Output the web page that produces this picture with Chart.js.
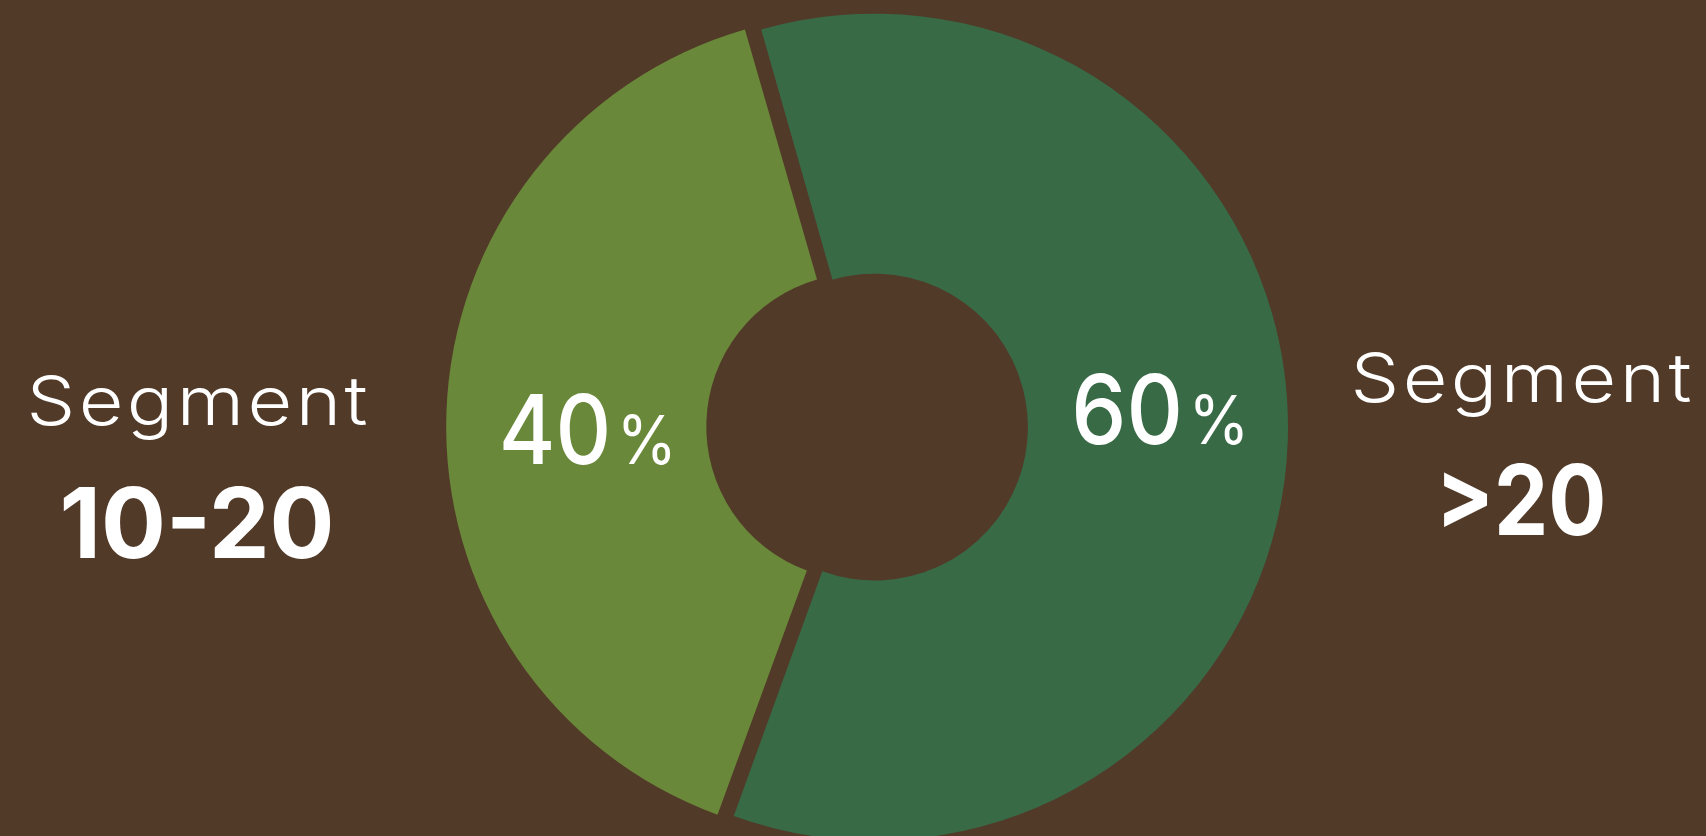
<!DOCTYPE html>
<html>
<head>
<meta charset="utf-8">
<title>Segments</title>
<script src="https://cdn.jsdelivr.net/npm/chart.js@4.4.1/dist/chart.umd.min.js"></script>
<style>
  html, body { margin: 0; padding: 0; background: #523a29; overflow: hidden; }
  #wrap { position: relative; width: 1706px; height: 836px; }
</style>
</head>
<body>
<div id="wrap"><canvas id="chart"></canvas></div>
<script>
const segments = ["10-20", ">20"];
const shares = [40, 60];
const captionWord = "Segment";

const colors = ["#6a883a", "#386a46"];
const FONT = "Inter, Lato, sans-serif";

// draw centred text stretched to a given width (the original face is wider)
function drawFit(ctx, text, x, y, font, width, spacing) {
  ctx.font = font;
  ctx.letterSpacing = (spacing || 0) + "px";
  const w = ctx.measureText(text).width - (spacing || 0);
  const s = width / w;
  ctx.save();
  ctx.translate(x, y);
  ctx.scale(s, 1);
  ctx.textAlign = "left";
  ctx.fillText(text, -w / 2, 0);
  ctx.restore();
  ctx.letterSpacing = "0px";
}

// captions left/right of the ring + percentages inside the slices
const labelsPlugin = {
  id: "labels",
  afterDatasetsDraw(chart) {
    const ctx = chart.ctx;
    const arcs = chart.getDatasetMeta(0).data;
    ctx.save();
    ctx.fillStyle = "#ffffff";
    ctx.textBaseline = "alphabetic";

    arcs.forEach((arc, i) => {
      const mid = (arc.startAngle + arc.endAngle) / 2;
      const shift = (arc.options.offset || 0) / 4;
      const r = (arc.innerRadius + arc.outerRadius) / 2 + shift;
      const x = arc.x + Math.cos(mid) * r + 7;
      const y = arc.y - Math.sin(mid) * r - 8.5;

      const num = String(shares[i]);
      ctx.font = "500 96px " + FONT;
      const w1 = ctx.measureText(num).width;
      ctx.font = "400 68px " + FONT;
      const w2 = ctx.measureText("%").width;
      const gap = 6;
      const s = 178 / (w1 + gap + w2);
      ctx.save();
      ctx.translate(x, y + 35);
      ctx.scale(s, 1);
      const left = -(w1 + gap + w2) / 2;
      ctx.textAlign = "left";
      ctx.font = "500 96px " + FONT;
      ctx.fillText(num, left, 0);
      ctx.font = "400 68px " + FONT;
      ctx.fillText("%", left + w1 + gap, 0);
      ctx.restore();
    });

    // side captions
    const capX = [197, 1521];
    const capY = [425, 402];
    const valueWidth = [275, 171];
    segments.forEach((seg, i) => {
      drawFit(ctx, captionWord, capX[i], capY[i], "300 68px " + FONT, 341, 3);
      drawFit(ctx, seg, capX[i], capY[i] + 133, "700 97px " + FONT, valueWidth[i], 0);
    });
    ctx.restore();
  }
};

new Chart(document.getElementById("chart"), {
  type: "doughnut",
  data: {
    labels: segments,
    datasets: [
      {
        data: shares,
        backgroundColor: colors,
        borderWidth: 0,
        offset: [42, 18],
        hoverOffset: 0,
      },
    ],
  },
  options: {
    responsive: true,
    maintainAspectRatio: false,
    animation: false,
    events: [],
    rotation: 200,
    radius: 409,
    cutout: "36.4%",
    layout: {
      padding: { left: 34, top: 18, right: 0, bottom: 0 },
    },
    plugins: {
      legend: { display: false },
      tooltip: { enabled: false },
    },
  },
  plugins: [labelsPlugin],
});
</script>
</body>
</html>
